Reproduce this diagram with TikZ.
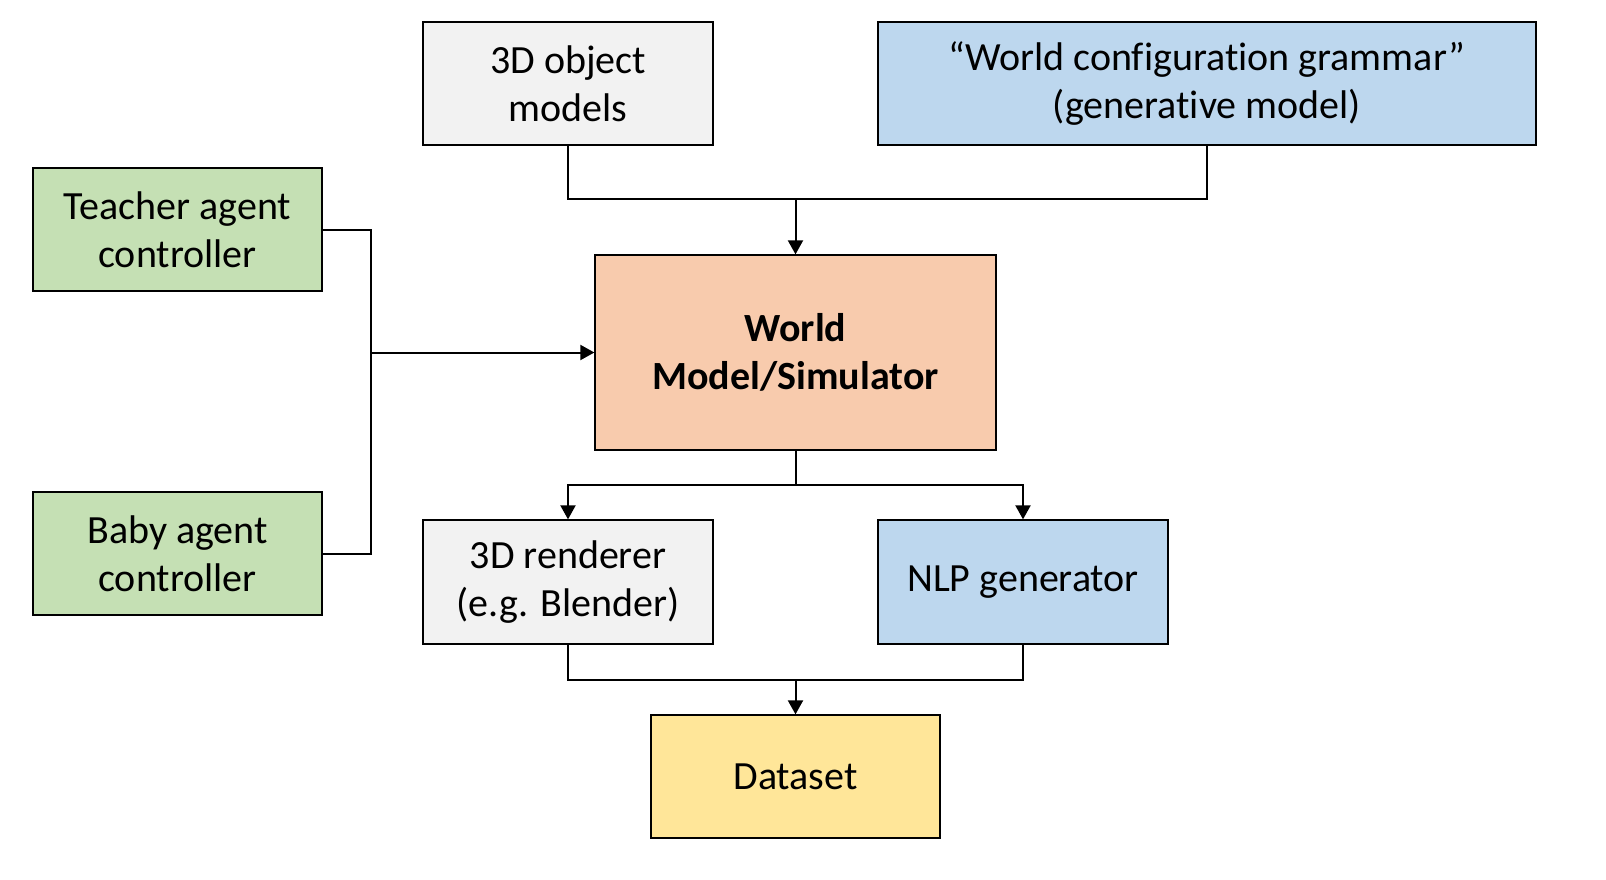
\documentclass[tikz,border=0pt]{standalone}
\usepackage{fontspec}
\setmainfont{Carlito}[Ligatures={NoCommon}]
\usetikzlibrary{arrows.meta}
\definecolor{cgrey}{HTML}{F2F2F2}
\definecolor{cblue}{HTML}{BDD7EE}
\definecolor{cgreen}{HTML}{C5E0B4}
\definecolor{corange}{HTML}{F8CBAD}
\definecolor{cyellow}{HTML}{FFE699}
\tikzset{
  box/.style={draw=black, line width=1.3pt, inner sep=0pt, align=center,
    font=\fontsize{40}{48}\selectfont},
  conn/.style={draw=black, line width=2pt},
  arr/.style={conn, -{Triangle[length=14pt,width=15pt]}},
}
\begin{document}
\begin{tikzpicture}[x=1pt,y=-1pt]
\useasboundingbox (0,0) rectangle (1606,880);
\node[box, fill=cgrey, minimum width=290pt, minimum height=123pt] (obj) at (568,83.5) {3D object\\models};
\node[box, fill=cblue, minimum width=658pt, minimum height=123pt] (grammar) at (1207,83.5) {``World configuration grammar''\\(generative model)};
\node[box, fill=cgreen, minimum width=289pt, minimum height=123pt] (teacher) at (177.5,229.5) {Teacher agent\\controller};
\node[box, fill=cgreen, minimum width=289pt, minimum height=123pt] (baby) at (177.5,553.5) {Baby agent\\controller};
\node[box, fill=corange, minimum width=401pt, minimum height=195pt, font=\fontsize{40}{48}\selectfont\bfseries] (world) at (795.5,352.5) {World\\Model/Simulator};
\node[box, fill=cgrey, minimum width=290pt, minimum height=124pt] (render) at (568,582) {3D renderer\\(e.g. Blender)};
\node[box, fill=cblue, minimum width=290pt, minimum height=124pt] (nlp) at (1023,582) {NLP generator};
\node[box, fill=cyellow, minimum width=289pt, minimum height=123pt] (dataset) at (795.5,776.5) {Dataset};
\coordinate (j1) at (795.5,199);
\coordinate (j2) at (371,352.5);
\coordinate (j3) at (795.5,485);
\coordinate (j4) at (795.5,680);
\draw[conn] (obj.south) |- (j1) -| (grammar.south);
\draw[arr] (j1) -- (world.north);
\draw[conn] (teacher.east) -| (j2) |- (baby.east);
\draw[arr] (j2) -- (world.west);
\draw[conn] (world.south) -- (j3);
\draw[arr] (j3) -| (render.north);
\draw[arr] (j3) -| (nlp.north);
\draw[conn] (render.south) |- (j4) -| (nlp.south);
\draw[arr] (j4) -- (dataset.north);
\end{tikzpicture}
\end{document}
